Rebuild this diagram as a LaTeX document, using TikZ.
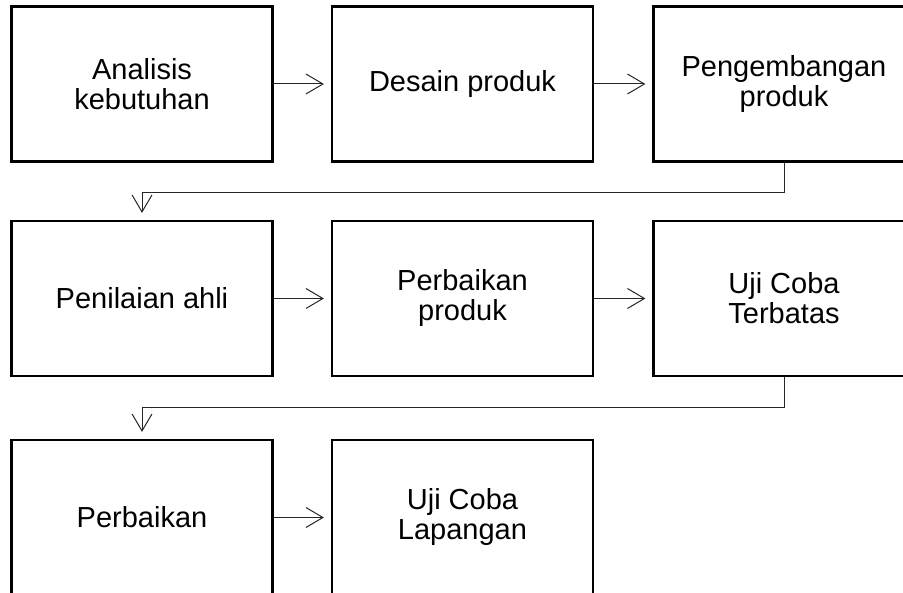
\documentclass[tikz,border=0pt]{standalone}
\usepackage{fontspec}
\setmainfont{Liberation Sans}
\usetikzlibrary{arrows.meta}
\begin{document}
\begin{tikzpicture}[x=1pt,y=-1pt,
  stepbox/.style={draw=black,line width=2.2pt,minimum width=261pt,minimum height=155pt,
    inner sep=0pt,align=center,font=\fontsize{29}{30}\selectfont},
  conn/.style={draw=black!85,line width=1pt,
    -{Straight Barb[length=17pt,width=20pt,line width=1pt]},shorten >=7pt}]
\useasboundingbox (0,0) rectangle (903,593);
\node[stepbox] (a) at (142,84) {Analisis\\kebutuhan};
\node[stepbox] (b) at (462.5,84) {Desain produk};
\node[stepbox] (c) at (784,84) {Pengembangan\\produk};
\node[stepbox] (d) at (142,298.5) {Penilaian ahli};
\node[stepbox] (e) at (462.5,298.5) {Perbaikan\\produk};
\node[stepbox] (f) at (784,298.5) {Uji Coba\\Terbatas};
\node[stepbox] (g) at (142,517.5) {Perbaikan};
\node[stepbox] (h) at (462.5,517.5) {Uji Coba\\Lapangan};
\draw[conn] (a) -- (b);
\draw[conn] (b) -- (c);
\draw[conn] (d) -- (e);
\draw[conn] (e) -- (f);
\draw[conn] (g) -- (h);
\draw[conn] (c.south) -- ++(0,30) -| (d.north);
\draw[conn] (f.south) -- ++(0,30.5) -| (g.north);
\end{tikzpicture}
\end{document}
